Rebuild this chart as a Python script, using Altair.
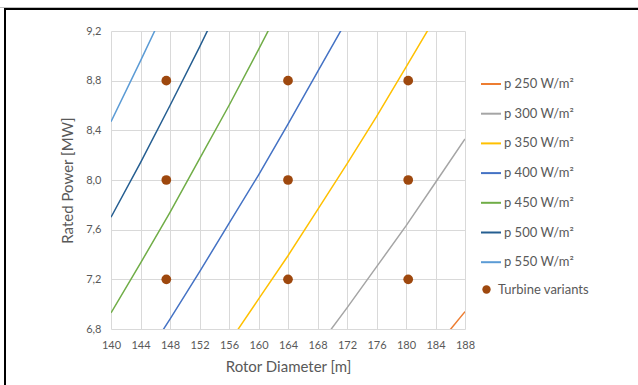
import altair as alt
import pandas as pd

# Rotor diameter [m] and rated power [MW] along each specific-power line
d_250 = [184, 188]
p_250 = [6.65, 6.94]
d_300 = [168, 172, 176, 180, 184, 188]
p_300 = [6.65, 6.97, 7.30, 7.63, 7.98, 8.33]
d_350 = [156, 160, 164, 168, 172, 176, 180, 184]
p_350 = [6.69, 7.04, 7.39, 7.76, 8.13, 8.51, 8.91, 9.31]
d_400 = [144, 148, 152, 156, 160, 164, 168, 172]
p_400 = [6.51, 6.88, 7.26, 7.65, 8.04, 8.45, 8.87, 9.29]
d_450 = [140, 144, 148, 152, 156, 160, 164]
p_450 = [6.93, 7.33, 7.74, 8.17, 8.60, 9.05, 9.51]
d_500 = [140, 144, 148, 152, 156]
p_500 = [7.70, 8.14, 8.60, 9.07, 9.56]
d_550 = [140, 144, 148]
p_550 = [8.47, 8.96, 9.46]

series_names = ["p 250 W/m²", "p 300 W/m²", "p 350 W/m²", "p 400 W/m²",
                "p 450 W/m²", "p 500 W/m²", "p 550 W/m²"]
series_colors = ["#ED7D31", "#A5A5A5", "#FFC000", "#4472C4",
                 "#70AD47", "#255E91", "#5B9BD5"]

# Turbine variants
variant_d = [147.5, 147.5, 147.5, 164, 164, 164, 180.3, 180.3, 180.3]
variant_p = [7.2, 8.0, 8.8, 7.2, 8.0, 8.8, 7.2, 8.0, 8.8]

x_ticks = [140, 144, 148, 152, 156, 160, 164, 168, 172, 176, 180, 184, 188]
y_ticks = [6.8, 7.2, 7.6, 8.0, 8.4, 8.8, 9.2]

rows = []
for name, ds, ps in zip(series_names,
                        [d_250, d_300, d_350, d_400, d_450, d_500, d_550],
                        [p_250, p_300, p_350, p_400, p_450, p_500, p_550]):
    for d, p in zip(ds, ps):
        rows.append({"series": name, "D": d, "P": p})
lines_df = pd.DataFrame(rows)
points_df = pd.DataFrame({"D": variant_d, "P": variant_p,
                          "kind": ["Turbine variants"] * len(variant_d)})

FONT = "Lato"
GRAY = "#595959"

x_axis = alt.Axis(values=x_ticks, title="Rotor Diameter [m]",
                  labelOverlap=False, labelFlush=False,
                  labelExpr="replace(format(datum.value, 'd'), '.', ',')")
y_axis = alt.Axis(values=y_ticks, title="Rated Power [MW]",
                  labelOverlap=False, labelFlush=False,
                  labelExpr="replace(format(datum.value, '.1f'), '.', ',')")
x_scale = alt.Scale(domain=[140, 188], nice=False, zero=False)
y_scale = alt.Scale(domain=[6.8, 9.2], nice=False, zero=False)

lines = alt.Chart(lines_df).mark_line(clip=True, strokeWidth=1.5).encode(
    x=alt.X("D:Q", scale=x_scale, axis=x_axis),
    y=alt.Y("P:Q", scale=y_scale, axis=y_axis),
    color=alt.Color("series:N",
                    scale=alt.Scale(domain=series_names, range=series_colors),
                    sort=series_names,
                    legend=alt.Legend(title=None, orient="none", legendX=369, legendY=42,
                                      symbolType="stroke", symbolStrokeWidth=2,
                                      symbolSize=400, rowPadding=11.7,
                                      labelOffset=2)),
    detail="series:N",
)

points = alt.Chart(points_df).mark_point(filled=True, size=95, opacity=1).encode(
    x=alt.X("D:Q", scale=x_scale, axis=x_axis),
    y=alt.Y("P:Q", scale=y_scale, axis=y_axis),
    fill=alt.Fill("kind:N",
                  scale=alt.Scale(domain=["Turbine variants"], range=["#9E480E"]),
                  legend=alt.Legend(title=None, orient="none", legendX=369, legendY=252,
                                    symbolType="circle", symbolSize=70,
                                    labelOffset=5)),
)

# Frame: top and left edges around the figure
frame_top_gray = alt.Chart(alt.Data(values=[{}])).mark_rule(color="#BFBFBF", strokeWidth=1).encode(
    x=alt.value(-111), x2=alt.value(527), y=alt.value(-23.5))
frame_top = alt.Chart(alt.Data(values=[{}])).mark_rule(color="#000000", strokeWidth=2).encode(
    x=alt.value(-107), x2=alt.value(527), y=alt.value(-22))
frame_left = alt.Chart(alt.Data(values=[{}])).mark_rule(color="#000000", strokeWidth=2).encode(
    x=alt.value(-106), y=alt.value(-23), y2=alt.value(354))

chart = alt.layer(lines, points, frame_top_gray, frame_top, frame_left).resolve_scale(
    color="independent", fill="independent"
).properties(
    width=354, height=298,
    autosize=alt.AutoSizeParams(type="none"),
    padding={"left": 111, "top": 31, "right": 173, "bottom": 56},
    background="white",
).configure_view(
    stroke=None
).configure_axis(
    grid=True, gridColor="#D9D9D9", gridWidth=1,
    domain=False, ticks=False, labelOverlap=False, labelSeparation=0,
    labelFlush=False,
    labelFont=FONT, labelFontSize=11, labelColor=GRAY,
    titleFont=FONT, titleFontSize=15, titleColor=GRAY, titleFontWeight="normal",
).configure_axisX(
    labelPadding=10, titlePadding=9, labelOverlap=False,
).configure_axisY(
    labelPadding=10, titlePadding=10,
).configure_legend(
    labelFont=FONT, labelFontSize=13, labelColor=GRAY,
)

chart.save("out.html", embed_options={"renderer": "svg", "actions": False})
